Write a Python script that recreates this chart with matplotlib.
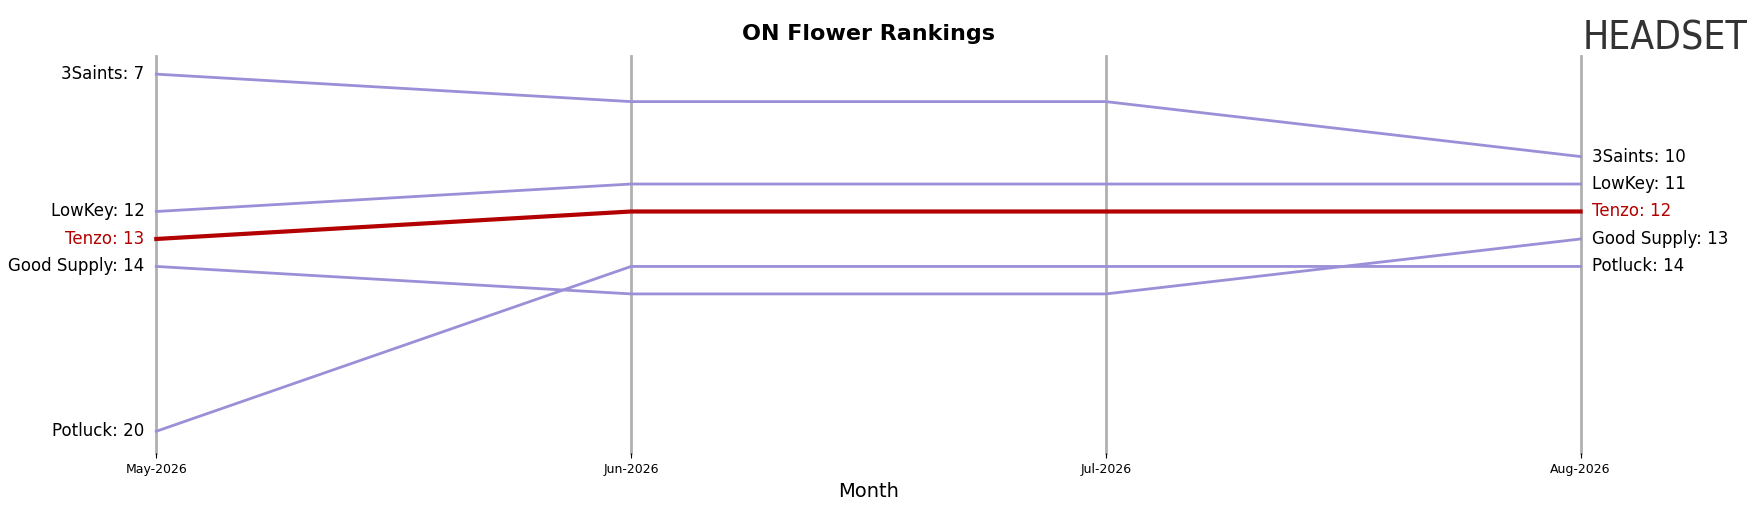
import matplotlib
matplotlib.use("Agg")
import matplotlib.pyplot as plt

months = ["May-2026", "Jun-2026", "Jul-2026", "Aug-2026"]
brands = ["3Saints", "LowKey", "Tenzo", "Good Supply", "Potluck"]
ranks = {
    "3Saints": [7, 8, 8, 10],
    "LowKey": [12, 11, 11, 11],
    "Tenzo": [13, 12, 12, 12],
    "Good Supply": [14, 15, 15, 13],
    "Potluck": [20, 14, 14, 14],
}
highlight = "Tenzo"

fig = plt.figure(figsize=(17.64, 5.07), dpi=100)
ax = fig.add_axes([0.0886, 0.106, 0.8074, 0.783])
x = list(range(len(months)))
for xi in x:
    ax.axvline(xi, color="#b0b0b0", lw=2, zorder=0, clip_on=False)
for b in brands:
    if b == highlight:
        ax.plot(x, ranks[b], color="#b30000", lw=3, zorder=3, clip_on=False)
    else:
        ax.plot(x, ranks[b], color="#9b8fd8", lw=2, zorder=2, clip_on=False)
    c = "#b30000" if b == highlight else "black"
    ax.text(-0.025, ranks[b][0], f"{b}: {ranks[b][0]}", ha="right", va="center", fontsize=12, color=c)
    ax.text(3.025, ranks[b][-1], f"{b}: {ranks[b][-1]}", ha="left", va="center", fontsize=12, color=c)
ax.set_xlim(0, 3)
ax.set_ylim(20.8, 6.35)
ax.set_xticks(x)
ax.set_xticklabels(months, fontsize=9)
ax.set_yticks([])
for s in ax.spines.values():
    s.set_visible(False)
ax.set_xlabel("Month", fontsize=14)
ax.set_title("ON Flower Rankings", fontsize=16, fontweight="bold", pad=12)
fig.text(0.897, 0.925, "HEADSET", fontsize=28, color="#333333", ha="left", va="center",
         family="DejaVu Sans", fontstretch="condensed")
fig.savefig("out.png", dpi=100)
